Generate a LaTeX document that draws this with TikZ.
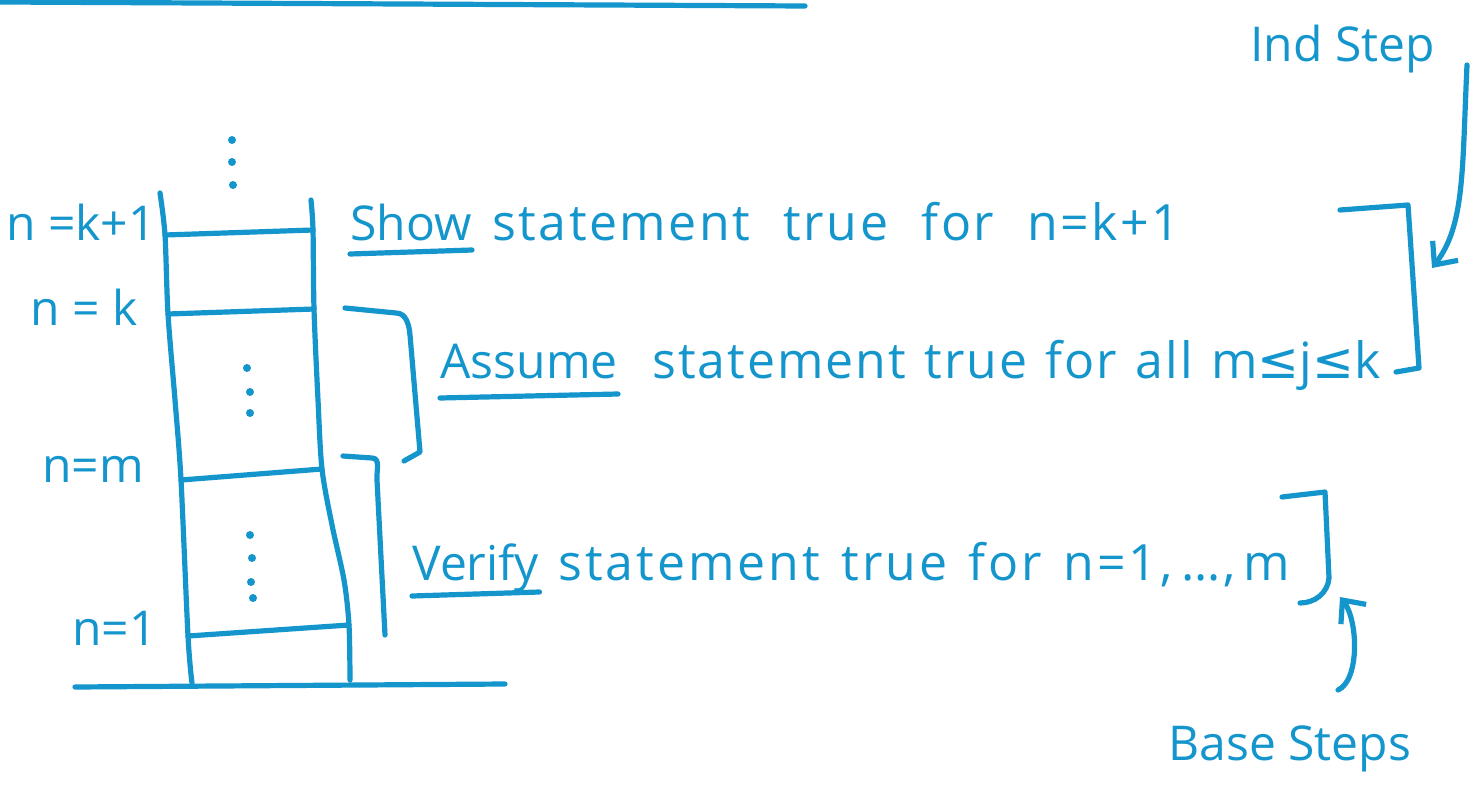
\documentclass[tikz,border=0pt]{standalone}
\usepackage{fontspec}
\setmainfont{Open Sans}
\newfontfamily\symfont{DejaVu Sans}
\usetikzlibrary{arrows.meta}
\definecolor{ink}{RGB}{20,150,205}
% a line of text, letter-spaced by #2 and spread to width #1
\newcommand{\spreadline}[3]{\makebox[#1][s]{\fontsize{25}{29}\selectfont\addfontfeature{LetterSpace=#2}#3}}

\begin{document}
\begin{tikzpicture}[x=0.5pt,y=-0.5pt,
  pen/.style={draw=ink,line width=2.6pt,line cap=round,line join=round},
  lbl/.style={text=ink,font=\fontsize{24}{28}\selectfont,inner sep=0pt,anchor=base west},
  dotmark/.style={fill=ink,circle,inner sep=0pt,minimum size=4pt},
  tip/.style={-{Straight Barb[length=9pt,width=16pt,line width=2.6pt]}}]
\useasboundingbox (0,0) rectangle (1470,792);
\fill[white] (0,0) rectangle (1470,792);

% top rule
\draw[pen] (0,2) -- (805,6);

% ladder rails
\coordinate (lt) at (160,193);
\coordinate (lk1) at (165,235);
\coordinate (lk) at (168,314);
\coordinate (lm) at (181,480);
\coordinate (l1) at (188,636);
\coordinate (lb) at (192,683);
\coordinate (rt) at (311,200);
\coordinate (rk1) at (313,230);
\coordinate (rk) at (314,309);
\coordinate (rm) at (322,469);
\coordinate (r1) at (349,625);
\coordinate (rb) at (350,680);
\draw[pen] plot[smooth,tension=0.5] coordinates {(lt) (lk1) (lk) (175,400) (lm) (l1) (lb)};
\draw[pen] plot[smooth,tension=0.5] coordinates {(rt) (rk1) (rk) (318,400) (rm) (332,525) (344,580) (r1) (rb)};

% rungs and base
\draw[pen] (lk1) -- (rk1);
\draw[pen] (lk) -- (rk);
\draw[pen] (lm) -- (rm);
\draw[pen] (l1) -- (r1);
\coordinate (bl) at (75,687);
\coordinate (br) at (505,684);
\draw[pen] (bl) -- (br);

% ellipses
\foreach \i/\p in {a/{(232,140)},b/{(232,162)},c/{(233,185)},
                   d/{(247,368)},e/{(250,392)},f/{(250,413)},
                   g/{(250,535)},h/{(252,558)},i/{(251,582)},j/{(253,598)}}
  \node[dotmark] (dot\i) at \p {};

% left labels
\node[lbl] (nk1) at (6,240) {n =k+1};
\node[lbl] (nk) at (30,325) {n = k};
\node[lbl] (nm) at (42,482) {n=m};
\node[lbl] (n1) at (72,645) {n=1};

% statements
\node[lbl] (show) at (350,240) {Show};
\node[lbl] (showrest) at (492,240) {\spreadline{344pt}{5}{statement true for n=k+1}};
\draw[pen] ([yshift=-7pt]show.base west) -- ([yshift=-5pt]show.base east);

\node[lbl] (assume) at (440,378) {Assume};
\node[lbl] (assumerest) at (652,378) {\spreadline{364pt}{4}{statement true for all m{\symfont≤}j{\symfont≤}k}};
\draw[pen] ([yshift=-10pt]assume.base west) -- ([yshift=-8pt]assume.base east);

\node[lbl] (verify) at (412,580) {Verify};
\node[lbl] (verifyrest) at (558,580) {\spreadline{366pt}{6}{statement true for n=1,\,…,\,m}};
\draw[pen] ([yshift=-8pt]verify.base west) -- ([yshift=-6pt]verify.base east);

% brackets
\draw[pen] (345,308) -- (396,313) to[out=0,in=95] (410,335) -- (420,452) -- (404,461);
\draw[pen] (343,456) -- (372,458) to[out=0,in=95] (377,480) -- (385,635);
\draw[pen] (1340,210) -- (1408,205) -- (1419,368) -- (1396,372);
\draw[pen] (1282,497) -- (1325,492) -- (1329,578) to[out=-95,in=0] (1300,603);

% side notes and arrows
\node[lbl] (ind) at (1250,62) {Ind Step};
\node[lbl] (base) at (1168,760) {Base Steps};
\coordinate (indtail) at (1467,65);
\coordinate (indhead) at (1432,268);
\draw[pen,tip] (indtail) .. controls (1462,170) and (1465,225) .. (indhead);
\coordinate (basetail) at (1338,690);
\coordinate (basehead) at (1340,597);
\draw[pen,tip] (basetail) .. controls (1360,680) and (1358,620) .. (basehead);
\end{tikzpicture}
\end{document}
